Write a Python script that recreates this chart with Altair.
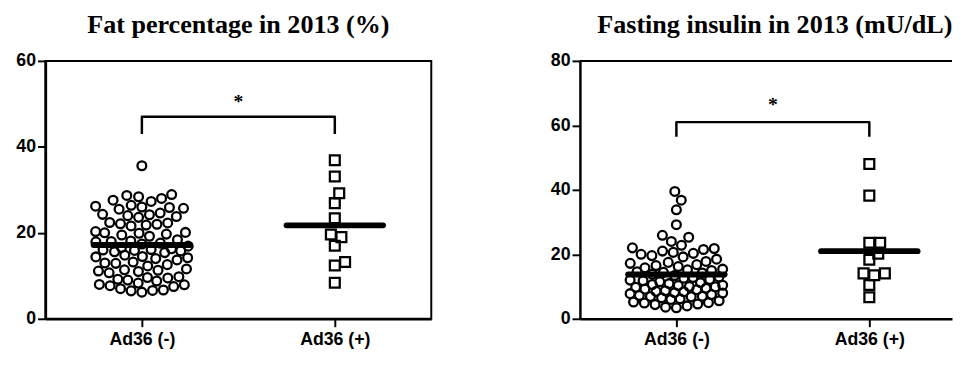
import math
import altair as alt
import pandas as pd

categories = ["Ad36 (-)", "Ad36 (+)"]
titles = ["Fat percentage in 2013 (%)", "Fasting insulin in 2013 (mU/dL)"]

fat_neg = [35.6,
           28.9, 27.6, 28.7, 28.0, 28.4, 27.3,
           26.4, 25.5, 26.2, 25.9, 26.0, 25.7,
           24.6, 23.8, 24.3, 24.2, 24.0, 23.6,
           22.4, 21.8, 22.1, 22.3, 22.0, 21.6,
           20.3, 19.5, 20.0, 19.9, 19.7, 20.1, 19.2,
           18.4, 17.6, 18.1, 18.0, 17.9, 17.4,
           16.9, 15.9, 16.6, 16.0, 16.3, 15.6, 16.1, 15.8, 15.4,
           14.8, 14.0, 14.5, 14.4, 14.2, 13.7,
           13.2, 12.3, 12.9, 13.0, 12.6,
           11.6, 10.7, 11.3, 11.1, 11.0, 11.4,
           9.8, 9.0, 9.5, 9.6, 9.2, 8.8,
           8.3, 7.5, 8.0, 7.9, 7.7,
           7.0, 6.2, 6.7, 6.6, 6.5]
fat_pos = [36.9, 33.1, 29.2, 26.9, 23.4, 19.6, 19.0, 17.0, 13.2, 12.4, 8.4]

ins_neg = [39.5, 36.8, 33.8, 29.2, 25.9, 25.3, 24.0, 22.8,
           22.0, 20.3, 21.5, 21.8, 21.0, 20.0, 20.6, 19.6,
           19.2, 16.8, 18.5, 17.5, 17.8, 16.2, 17.2, 16.5,
           15.8, 14.2, 15.4, 15.2, 15.0, 13.8, 14.6, 14.4,
           13.4, 11.8, 13.0, 12.8, 12.6, 11.5, 12.2, 12.0, 11.2,
           10.9, 9.8, 10.6, 10.4, 10.3, 9.5, 10.0, 9.9, 9.2,
           9.0, 7.8, 8.7, 8.5, 8.4, 7.5, 8.1, 8.0, 7.2,
           7.0, 6.2, 6.8, 6.9, 6.5, 6.0,
           5.6, 4.6, 5.2, 5.0, 4.9, 4.4,
           4.0, 3.6, 3.4]
ins_pos = [48.0, 38.2, 23.6, 23.6, 20.2, 18.3, 14.1, 13.5, 14.1, 10.5, 6.7]

fat_ticks = [0, 20, 40, 60]
ins_ticks = [0, 20, 40, 60, 80]

# significance bracket: leg bottom, bracket top, star baseline
fat_bracket = [43.0, 47.0, 49.0]
ins_bracket = [56.5, 61.0, 64.4]
sig_label = "*"

FULL_W = 392      # width of a complete panel
RIGHT_W = 378     # right panel is cropped at the page edge in the original
PLOT_H = 262


def swarm(values, px_per_unit, d=11.0, cap=47.0):
    order = sorted(range(len(values)), key=lambda i: values[i])
    placed = []
    offs = [0.0] * len(values)
    for n, i in enumerate(order):
        y = values[i] * px_per_unit
        near = [(px, py) for px, py in placed if abs(py - y) < d]
        cands = [0.0]
        for px, py in near:
            dx = math.sqrt(max(d * d - (py - y) ** 2, 0.0))
            cands += [px + dx, px - dx]

        def ok(x):
            return all((x - px) ** 2 + (y - py) ** 2 >= d * d - 1e-6 for px, py in near)

        sgn = 1 if n % 2 else -1
        valid = [c for c in cands if abs(c) <= cap and ok(c)]
        if valid:
            x = min(valid, key=lambda c: (round(abs(c), 6), sgn * c))
        else:
            grid = [-cap + k * cap / 25.0 for k in range(51)]
            x = max(grid, key=lambda c: (min((c - px) ** 2 + (y - py) ** 2 for px, py in near), -abs(c)))
        placed.append((x, y))
        offs[i] = x
    return offs


def panel(neg, pos, ticks, bracket, title, width, cropped=False):
    ymax = ticks[-1]
    ppu = PLOT_H / ymax
    xppu = FULL_W / 2.0
    rows = []
    for gi, vals in enumerate([neg, pos]):
        offs = swarm(vals, ppu)
        for v, o in zip(vals, offs):
            rows.append({"group": categories[gi], "gi": gi, "value": v, "x": gi + 0.5 + o / xppu})
    df = pd.DataFrame(rows)

    xscale = alt.Scale(domain=[0, 2.0 * width / FULL_W], nice=False, zero=False)
    yscale = alt.Scale(domain=[0, ymax], nice=False, zero=True)
    label_expr = "datum.value < 1 ? '%s' : '%s'" % (categories[0], categories[1])
    xaxis = alt.Axis(values=[0.5, 1.5], labelExpr=label_expr, title=None, grid=False)
    yaxis = alt.Axis(values=ticks, title=None, grid=False)

    base_x = alt.X("x:Q", scale=xscale, axis=xaxis)
    base_y = alt.Y("value:Q", scale=yscale, axis=yaxis)

    circles = alt.Chart(df[df.gi == 0]).mark_point(
        shape="circle", filled=False, stroke="black", strokeWidth=2.3, size=80, opacity=1
    ).encode(x=base_x, y=base_y)
    squares = alt.Chart(df[df.gi == 1]).mark_point(
        shape="square", filled=False, stroke="black", strokeWidth=2.3, size=100, opacity=1
    ).encode(x=base_x, y=base_y)

    means = alt.Chart(df).transform_aggregate(
        mean="mean(value)", groupby=["gi"]
    ).transform_calculate(
        x1="datum.gi + 0.5 - 0.25", x2="datum.gi + 0.5 + 0.25"
    ).mark_rule(strokeWidth=6, color="black", strokeCap="round").encode(
        x=alt.X("x1:Q", scale=xscale), x2="x2:Q", y=alt.Y("mean:Q", scale=yscale)
    )

    leg, top, star = bracket
    bdf = pd.DataFrame({"x": [0.5, 0.5, 1.5, 1.5], "y": [leg, top, top, leg], "o": [0, 1, 2, 3]})
    brk = alt.Chart(bdf).mark_line(color="black", strokeWidth=2.5, strokeJoin="round").encode(
        x=alt.X("x:Q", scale=xscale), y=alt.Y("y:Q", scale=yscale), order="o:Q"
    )
    sdf = pd.DataFrame({"x": [1.0], "y": [star], "t": [sig_label]})
    st = alt.Chart(sdf).mark_text(
        font="Liberation Serif", fontWeight="bold", fontSize=20, baseline="alphabetic", color="black"
    ).encode(x=alt.X("x:Q", scale=xscale), y=alt.Y("y:Q", scale=yscale), text="t:N")

    layers = [circles, squares, means, brk, st]
    if cropped:
        top_line = alt.Chart(pd.DataFrame({"y": [ymax]})).mark_rule(
            color="black", strokeWidth=2
        ).encode(y=alt.Y("y:Q", scale=yscale))
        layers.append(top_line)
        ttl = alt.TitleParams(title, dx=(FULL_W - width) / 2.0 + 2)
        return alt.layer(*layers).properties(
            width=width, height=PLOT_H, title=ttl, view=alt.ViewBackground(stroke=None)
        )
    return alt.layer(*layers).properties(width=width, height=PLOT_H, title=title)


left = panel(fat_neg, fat_pos, fat_ticks, fat_bracket, titles[0], FULL_W)
right = panel(ins_neg, ins_pos, ins_ticks, ins_bracket, titles[1], RIGHT_W, cropped=True)

chart = alt.hconcat(left, right, spacing=119).properties(
    padding={"left": 6, "top": 0, "right": 0, "bottom": 0}
).configure_view(
    stroke="black", strokeWidth=2
).configure_axis(
    labelFont="Liberation Sans", labelFontWeight="bold", labelFontSize=18, labelColor="black",
    domainColor="black", domainWidth=2.5, tickColor="black", tickWidth=2, tickSize=8,
    labelPadding=2, grid=False
).configure_axisX(labelPadding=4).configure_title(
    font="Liberation Serif", fontSize=26.5, fontWeight="bold", color="black",
    anchor="middle", frame="group", offset=14
)

chart.save("out.html", embed_options={"renderer": "svg", "actions": False})
